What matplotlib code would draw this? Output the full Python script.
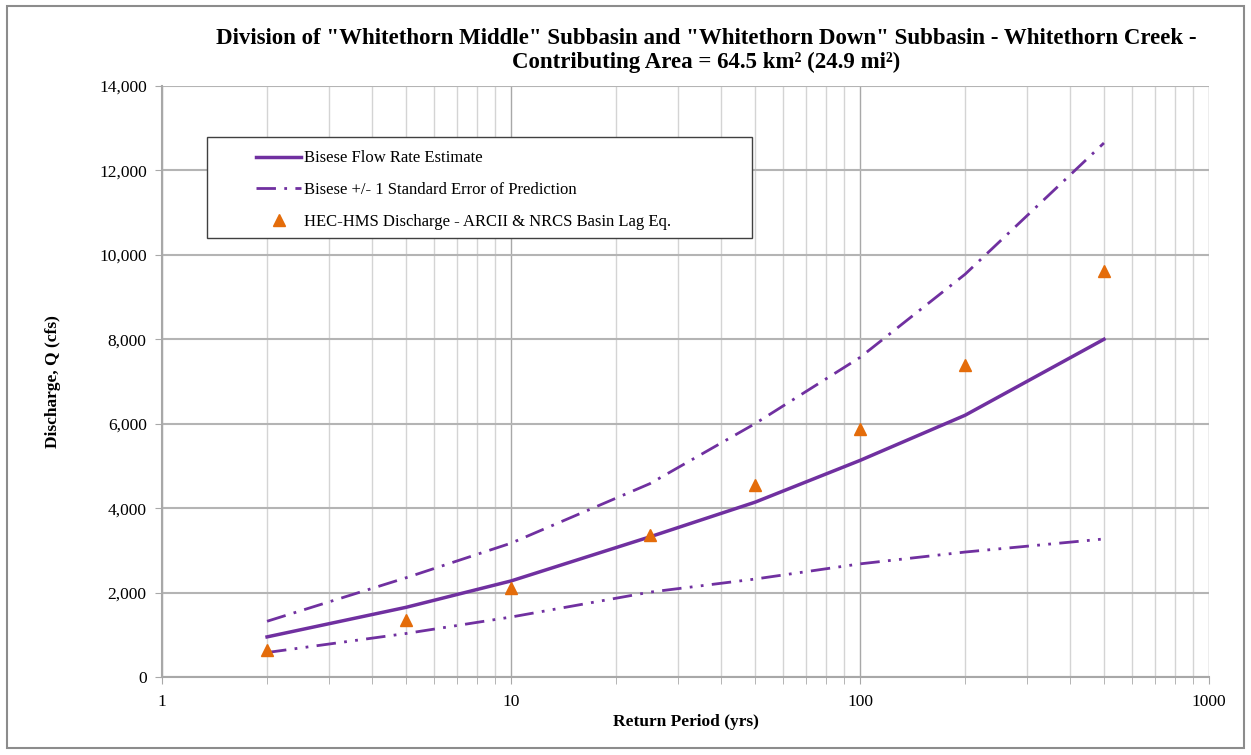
import matplotlib
matplotlib.use("Agg")
import matplotlib.pyplot as plt
import matplotlib.ticker as mticker
from matplotlib.patches import Rectangle

# return periods (yrs) and discharges (cfs)
return_period = [2, 5, 10, 25, 50, 100, 200, 500]
bisese = [950, 1650, 2275, 3320, 4140, 5130, 6200, 8000]
bisese_upper = [1320, 2350, 3170, 4580, 6000, 7570, 9540, 12650]
bisese_lower = [580, 1030, 1420, 2010, 2320, 2680, 2960, 3270]
hms = [650, 1350, 2120, 3360, 4540, 5870, 7400, 9620]

purple = "#7030A0"
orange = "#E46C0A"

plt.rcParams["font.family"] = ["Liberation Serif", "DejaVu Serif"]

fig = plt.figure(figsize=(12.51, 7.55), dpi=100)
ax = fig.add_axes([162/1251, 78/755, 1047/1251, 591/755])

ax.plot(return_period, bisese, color=purple, lw=2.5, label="Bisese Flow Rate Estimate", zorder=4)
ax.plot(return_period, bisese_upper, color=purple, lw=2, linestyle=(0, (7, 3, 1, 3)),
        label="Bisese +/- 1 Standard Error of Prediction", zorder=4)
ax.plot(return_period, bisese_lower, color=purple, lw=2, linestyle=(0, (7, 3, 1, 3, 1, 3)), zorder=4)
ax.plot(return_period, hms, linestyle="none", marker="^", markersize=8, color=orange,
        label="HEC-HMS Discharge - ARCII & NRCS Basin Lag Eq.", zorder=5)

ax.set_xscale("log")
ax.set_xlim(1, 1000)
ax.set_ylim(0, 14000)
ax.set_yticks(range(0, 14001, 2000))
ax.yaxis.set_major_formatter(mticker.FuncFormatter(lambda v, p: "{:,.0f}".format(v)))
ax.xaxis.set_major_locator(mticker.FixedLocator([1, 10, 100, 1000]))
ax.xaxis.set_major_formatter(mticker.FuncFormatter(lambda v, p: "{:g}".format(v)))
ax.xaxis.set_minor_locator(mticker.LogLocator(base=10, subs=range(2, 10), numticks=20))
ax.xaxis.set_minor_formatter(mticker.NullFormatter())

ax.grid(which="major", axis="x", color="#a8a8a8", lw=1.0)
ax.grid(which="minor", axis="x", color="#d4d4d4", lw=1.0)
ax.grid(which="major", axis="y", color="#b4b4b4", lw=1.5)
ax.set_axisbelow(True)

for s in ["top", "right"]:
    ax.spines[s].set_visible(False)
for s in ["left", "bottom"]:
    ax.spines[s].set_color("#a8a8a8")
    ax.spines[s].set_linewidth(1.5)
ax.tick_params(axis="both", which="both", color="#a8a8a8", labelsize=12.5, length=5)
ax.tick_params(axis="x", which="major", pad=7)
ax.tick_params(axis="y", which="major", pad=6)

ax.set_xlabel("Return Period (yrs)", fontsize=12.5, fontweight="bold", labelpad=3)
ax.set_ylabel("Discharge, Q (cfs)", fontsize=12.5, fontweight="bold", labelpad=27)

fig.text(706/1251, 1 - 38/755, "Division of \"Whitethorn Middle\" Subbasin and \"Whitethorn Down\" Subbasin - Whitethorn Creek -",
         ha="center", va="center", fontsize=16.5, fontweight="bold")
fig.text(706/1251, 1 - 62/755, "Contributing Area = 64.5 km² (24.9 mi²)",
         ha="center", va="center", fontsize=16.5, fontweight="bold")

# legend box
ax.add_patch(Rectangle(((207-162)/1047, (677-238)/591), (752-207)/1047, (238-137)/591,
                       transform=ax.transAxes, facecolor="white", edgecolor="#404040", lw=1, zorder=6))
leg = ax.legend(loc="upper left", bbox_to_anchor=((243-162)/1047, (677-137)/591), frameon=False,
                fontsize=12, handlelength=2.7, handletextpad=0.15, labelspacing=0.95, borderpad=0.3)
leg.set_zorder(7)

fig.add_artist(Rectangle((7/1251, 7/755), 1237/1251, 742/755, transform=fig.transFigure,
                         fill=False, edgecolor="#8c8c8c", lw=1.5))

fig.savefig("out.png", dpi=100)
